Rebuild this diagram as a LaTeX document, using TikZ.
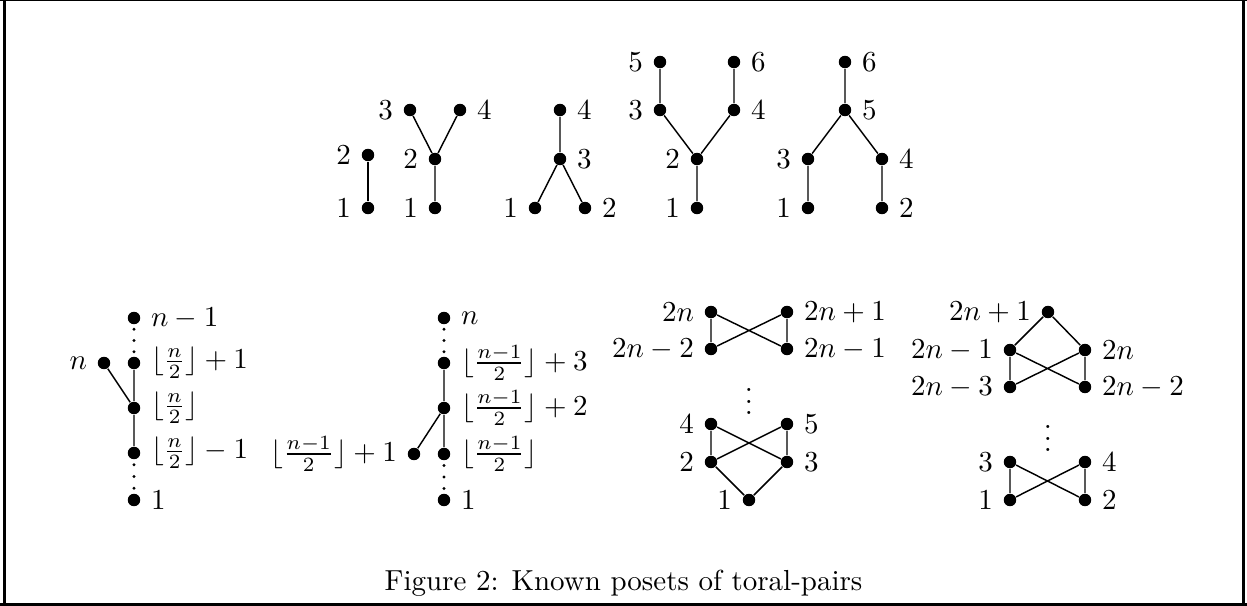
\documentclass[tikz,border=0pt]{standalone}
\usetikzlibrary{calc}
\tikzset{
  vtx/.style={circle,fill=black,inner sep=0pt,minimum size=4.3pt},
  edge/.style={line width=0.5pt},
  frameline/.style={line width=1.05pt},
}
\newcommand{\chaindots}[2]{%
  \fill ($(#1)!0.25!(#2)$) circle (0.6pt);
  \fill ($(#1)!0.5!(#2)$) circle (0.6pt);
  \fill ($(#1)!0.75!(#2)$) circle (0.6pt);}
\begin{document}
\begin{tikzpicture}[x=0.345pt,y=-0.345pt]
\useasboundingbox (0,0) rectangle (1247,606);
% frame
\draw[line width=0.4pt] (0,0.6) -- (1247,0.6);
\draw[frameline] (4.6,0) -- (4.6,606);
\draw[frameline] (1243.4,0) -- (1243.4,606);
\draw[frameline] (0,604.4) -- (1247,604.4);
% ---------- top row ----------
% A
\node[vtx,label=left:$1$] (a1) at (368,208) {};
\node[vtx,label=left:$2$] (a2) at (368,155) {};
\draw[edge] (a1) -- (a2);
% B
\node[vtx,label=left:$1$] (b1) at (435,208) {};
\node[vtx,label=left:$2$] (b2) at (435,159) {};
\node[vtx,label=left:$3$] (b3) at (410,110) {};
\node[vtx,label=right:$4$] (b4) at (460,110) {};
\draw[edge] (b1) -- (b2) (b2) -- (b3) (b2) -- (b4);
% C
\node[vtx,label=left:$1$] (c1) at (535,208) {};
\node[vtx,label=right:$2$] (c2) at (585,208) {};
\node[vtx,label=right:$3$] (c3) at (560,159) {};
\node[vtx,label=right:$4$] (c4) at (560,110) {};
\draw[edge] (c1) -- (c3) (c2) -- (c3) (c3) -- (c4);
% D
\node[vtx,label=left:$1$] (d1) at (697,208) {};
\node[vtx,label=left:$2$] (d2) at (697,159) {};
\node[vtx,label=left:$3$] (d3) at (660,110) {};
\node[vtx,label=right:$4$] (d4) at (734,110) {};
\node[vtx,label=left:$5$] (d5) at (660,62) {};
\node[vtx,label=right:$6$] (d6) at (734,62) {};
\draw[edge] (d1) -- (d2) (d2) -- (d3) (d2) -- (d4) (d3) -- (d5) (d4) -- (d6);
% E
\node[vtx,label=left:$1$] (e1) at (808,208) {};
\node[vtx,label=right:$2$] (e2) at (882,208) {};
\node[vtx,label=left:$3$] (e3) at (808,159) {};
\node[vtx,label=right:$4$] (e4) at (882,159) {};
\node[vtx,label=right:$5$] (e5) at (845,110) {};
\node[vtx,label=right:$6$] (e6) at (845,62) {};
\draw[edge] (e1) -- (e3) (e2) -- (e4) (e3) -- (e5) (e4) -- (e5) (e5) -- (e6);
% ---------- bottom row ----------
% F
\node[vtx,label=right:$1$] (f1) at (134,500) {};
\node[vtx,label=right:$\lfloor\frac{n}{2}\rfloor-1$] (f2) at (134,453) {};
\node[vtx,label=right:$\lfloor\frac{n}{2}\rfloor$] (f3) at (134,408) {};
\node[vtx,label=right:$\lfloor\frac{n}{2}\rfloor+1$] (f4) at (134,363) {};
\node[vtx,label=right:$n-1$] (f5) at (134,318) {};
\node[vtx,label=left:$n$] (fn) at (104,363) {};
\draw[edge] (f2) -- (f3) (f3) -- (f4) (fn) -- (f3);
\chaindots{f1}{f2}
\chaindots{f4}{f5}
% G
\node[vtx,label=right:$1$] (g1) at (444,500) {};
\node[vtx,label=right:$\lfloor\frac{n-1}{2}\rfloor$] (g2) at (444,454) {};
\node[vtx,label=right:$\lfloor\frac{n-1}{2}\rfloor+2$] (g3) at (444,408) {};
\node[vtx,label=right:$\lfloor\frac{n-1}{2}\rfloor+3$] (g4) at (444,363) {};
\node[vtx,label=right:$n$] (g5) at (444,318) {};
\node[vtx,label=left:$\lfloor\frac{n-1}{2}\rfloor+1$] (gl) at (414,454) {};
\draw[edge] (g2) -- (g3) (g3) -- (g4) (gl) -- (g3);
\chaindots{g1}{g2}
\chaindots{g4}{g5}
% H
\node[vtx,label=left:$2n$] (h2n) at (711,312) {};
\node[vtx,label=right:$2n+1$] (h2np1) at (787,312) {};
\node[vtx,label=left:$2n-2$] (h2nm2) at (711,349) {};
\node[vtx,label=right:$2n-1$] (h2nm1) at (787,349) {};
\node[inner sep=0pt] (hv) at (749,393) {$\vdots$};
\node[vtx,label=left:$4$] (h4) at (711,424) {};
\node[vtx,label=right:$5$] (h5) at (787,424) {};
\node[vtx,label=left:$2$] (h2) at (711,462) {};
\node[vtx,label=right:$3$] (h3) at (787,462) {};
\node[vtx,label=left:$1$] (h1) at (749,500) {};
\draw[edge] (h2n) -- (h2nm2) (h2n) -- (h2nm1) (h2np1) -- (h2nm2) (h2np1) -- (h2nm1);
\draw[edge] (h4) -- (h2) (h4) -- (h3) (h5) -- (h2) (h5) -- (h3) (h1) -- (h2) (h1) -- (h3);
% I
\node[vtx,label=left:$2n+1$] (i2np1) at (1048,312) {};
\node[vtx,label=left:$2n-1$] (i2nm1) at (1010,350) {};
\node[vtx,label=right:$2n$] (i2n) at (1085,350) {};
\node[vtx,label=left:$2n-3$] (i2nm3) at (1010,387) {};
\node[vtx,label=right:$2n-2$] (i2nm2) at (1085,387) {};
\node[inner sep=0pt] (iv) at (1048,430) {$\vdots$};
\node[vtx,label=left:$3$] (i3) at (1010,462) {};
\node[vtx,label=right:$4$] (i4) at (1085,462) {};
\node[vtx,label=left:$1$] (i1) at (1010,500) {};
\node[vtx,label=right:$2$] (i2) at (1085,500) {};
\draw[edge] (i2np1) -- (i2nm1) (i2np1) -- (i2n) (i2nm1) -- (i2nm3) (i2nm1) -- (i2nm2) (i2n) -- (i2nm3) (i2n) -- (i2nm2);
\draw[edge] (i3) -- (i1) (i3) -- (i2) (i4) -- (i1) (i4) -- (i2);
% caption
\node (cap) at (623.5,583) {Figure 2: Known posets of toral-pairs};
\end{tikzpicture}
\end{document}
